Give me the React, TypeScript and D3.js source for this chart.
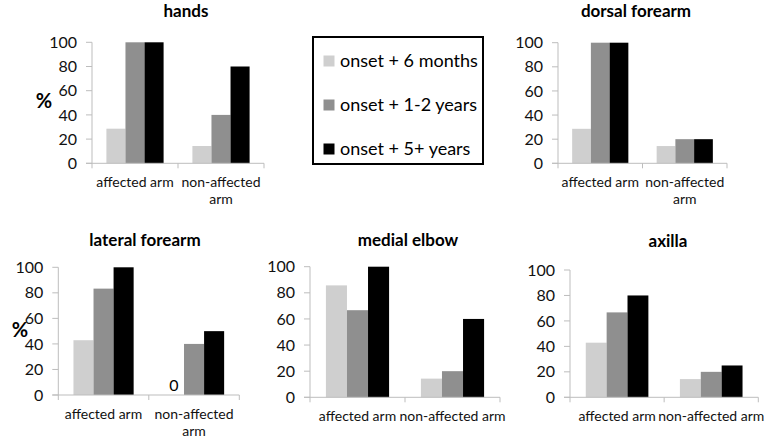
import React from "react";
import * as d3 from "d3";

const categories = ["affected arm", "non-affected arm"];
const seriesNames = ["onset + 6 months", "onset + 1-2 years", "onset + 5+ years"];
const seriesColors = ["#cfcfcf", "#8f8f8f", "#000000"];
const panelTitles = ["hands", "dorsal forearm", "lateral forearm", "medial elbow", "axilla"];
const yTicks = [0, 20, 40, 60, 80, 100];

// values per category: [6 months, 1-2 years, 5+ years]
const handsValues = [[28.6, 100, 100], [14.3, 40, 80]];
const dorsalValues = [[28.6, 100, 100], [14.3, 20, 20]];
const lateralValues = [[42.9, 83.3, 100], [0, 40, 50]];
const medialValues = [[85.7, 66.7, 100], [14.3, 20, 60]];
const axillaValues = [[42.9, 66.7, 80], [14.3, 20, 25]];
const panelValues = [handsValues, dorsalValues, lateralValues, medialValues, axillaValues];

const layouts = [
  { x0: 92, x1: 264, yBase: 163.3, yTop: 42.3, titleX: 186, titleY: 17, wrap: true, pct: [44, 108] },
  { x0: 558, x1: 727, yBase: 163.3, yTop: 42.7, titleX: 636, titleY: 17, wrap: true, pct: null },
  { x0: 58.3, x1: 239.3, yBase: 395, yTop: 267.3, titleX: 145, titleY: 246, wrap: true, pct: [20, 337] },
  { x0: 310, x1: 500, yBase: 397.3, yTop: 266.7, titleX: 408, titleY: 246, wrap: false, pct: null },
  { x0: 570, x1: 758.3, yBase: 397.3, yTop: 270, titleX: 668, titleY: 246.5, wrap: false, pct: null },
];

const FONT = "Lato, 'Open Sans', sans-serif";
const AXIS = "#bdbdbd";

function Panel({ idx }: { idx: number }) {
  const L = layouts[idx];
  const values = panelValues[idx];
  const y = d3.scaleLinear().domain([0, 100]).range([L.yBase, L.yTop]);
  const xc = d3.scaleBand().domain(categories).range([L.x0, L.x1]).padding(0);
  const step = xc.bandwidth();
  const gap = step * 0.335;
  const xs = d3.scaleBand().domain(seriesNames).range([gap / 2, step - gap / 2]).padding(0);
  return (
    <g>
      <text x={L.titleX} y={L.titleY} textAnchor="middle" fontFamily={FONT} fontWeight="bold" fontSize={17} fill="#000">
        {panelTitles[idx]}
      </text>
      {L.pct && (
        <text x={L.pct[0]} y={L.pct[1]} textAnchor="middle" fontFamily={FONT} fontWeight="bold" fontSize={20} fill="#000">
          %
        </text>
      )}
      {categories.map((c, ci) =>
        seriesNames.map((s, si) => {
          const v = values[ci][si];
          const bx = (xc(c) as number) + (xs(s) as number);
          return (
            <g key={c + s}>
              <rect x={bx} y={y(v)} width={xs.bandwidth()} height={y(0) - y(v)} fill={seriesColors[si]} />
              {v === 0 && (
                <text x={bx + xs.bandwidth() / 2} y={y(0) - 4} textAnchor="middle" fontFamily={FONT} fontSize={16} fill="#000">
                  0
                </text>
              )}
            </g>
          );
        })
      )}
      <line x1={L.x0} x2={L.x0} y1={y(100)} y2={y(0)} stroke={AXIS} strokeWidth={1} />
      {yTicks.map((t) => (
        <g key={t}>
          <line x1={L.x0 - 6} x2={L.x0} y1={y(t)} y2={y(t)} stroke={AXIS} strokeWidth={1} />
          <text x={L.x0 - 15} y={y(t)} dy="0.35em" textAnchor="end" fontFamily={FONT} fontSize={16} fill="#111">
            {t}
          </text>
        </g>
      ))}
      <line x1={L.x0 - 6} x2={L.x1} y1={y(0)} y2={y(0)} stroke={AXIS} strokeWidth={1} />
      {[0, 1, 2].map((k) => (
        <line key={k} x1={L.x0 + k * step} x2={L.x0 + k * step} y1={y(0)} y2={y(0) + 5} stroke={AXIS} strokeWidth={1} />
      ))}
      {categories.map((c) => {
        const cx = (xc(c) as number) + step / 2;
        const words = c.split(" ");
        const lines = L.wrap && words.length > 1 && c.length > 13 ? [words.slice(0, -1).join(" "), words[words.length - 1]] : [c];
        return (
          <text key={c} textAnchor="middle" fontFamily={FONT} fontSize={14} fill="#111">
            {lines.map((ln, li) => (
              <tspan key={li} x={cx} y={L.yBase + 24 + li * 17}>
                {ln}
              </tspan>
            ))}
          </text>
        );
      })}
    </g>
  );
}

function Legend() {
  const bx = 313, by = 37, bw = 170, bh = 127;
  const rowY = [61, 105, 149];
  return (
    <g>
      <rect x={bx} y={by} width={bw} height={bh} fill="#fff" stroke="#000" strokeWidth={2} />
      {seriesNames.map((s, i) => (
        <g key={s}>
          <rect x={323.5} y={rowY[i] - 5.5} width={11} height={11} fill={seriesColors[i]} />
          <text x={340} y={rowY[i]} dy="0.35em" fontFamily={FONT} fontSize={18} fill="#000">
            {s}
          </text>
        </g>
      ))}
    </g>
  );
}

export default function App() {
  return (
    <svg width={766} height={438} style={{ position: "absolute", left: 0, top: 0, background: "#fff" }}>
      <rect x={0} y={0} width={766} height={438} fill="#fff" />
      {panelTitles.map((_, i) => (
        <Panel key={i} idx={i} />
      ))}
      <Legend />
    </svg>
  );
}
